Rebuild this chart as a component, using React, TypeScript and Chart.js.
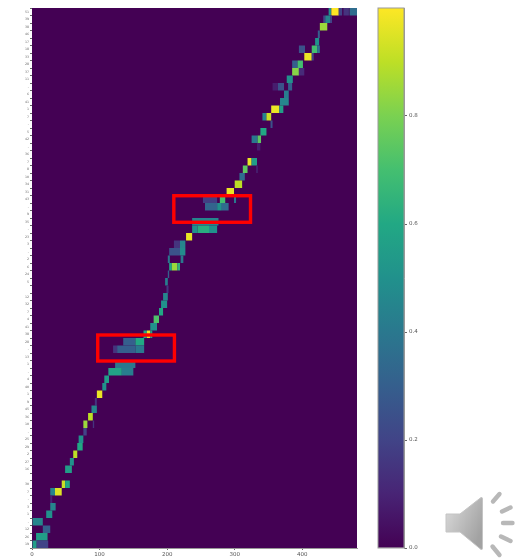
import React, { useEffect, useRef } from "react";
import { Chart, registerables } from "chart.js";

Chart.register(...registerables);

const rowLabels = [
  "51","39","38","46","17","18","33","28","37","11","-","6","41","1","7","-","5","42","-","36","7","8","10","34",
  "31","43","-","9","35","-","23","3","-","2","6","24","5","","12","32","7","4","41","38","28","-","13","1",
  "-","4","40","1","9","45","36","10","-","25","29","2","27","16","","30","7","-","3","1","-","12","26","19",
];

// [row, start, end, value]
const upperTrack: number[][] = [
  [0,439,443,0.5],[0,443,454,1],[0,454,459,0.2],[0,461,469,0.15],[0,470,481,0.35],
  [1,431,434,0.2],[1,434,441,0.45],[1,441,444,0.2],
  [2,426,437,0.85],[3,423,426,0.3],[4,419,425,0.5],
  [5,395,404,0.25],[5,414,422,0.7],[5,422,426,0.4],
  [6,403,414,0.97],[6,414,417,0.2],
  [7,385,393,0.3],[7,393,401,0.7],
  [8,385,395,0.82],[8,395,403,0.12],
  [9,377,386,0.5],
  [10,356,364,0.08],[10,364,373,0.25],[10,379,385,0.3],
  [11,373,380,0.42],[12,367,380,0.45],
  [13,354,366,0.97],[13,366,372,0.55],
  [14,341,347,0.45],[14,347,354,0.92],[15,353,356,0.25],
  [16,338,347,0.6],
  [17,325,334,0.4],[17,334,339,0.75],
  [18,333,338,0.08],
  [20,319,325,0.97],[20,325,333,0.55],
  [21,312,319,0.75],[21,332,334,0.12],
  [22,307,315,0.35],[23,300,311,0.9],[24,288,299,0.97],
];

const middleTrack: number[][] = [
  [25,253,274,0.18],[25,278,286,0.7],[25,299,302,0.4],
  [26,256,274,0.32],[26,274,281,0.5],[26,281,291,0.35],
  [28,237,276,0.45],
  [29,237,245,0.5],[29,245,262,0.62],[29,262,274,0.5],
  [30,228,237,0.97],
  [31,210,219,0.15],[31,219,227,0.45],
  [32,203,219,0.25],[32,219,227,0.48],
  [33,201,204,0.4],[33,220,224,0.4],
  [34,203,207,0.6],[34,207,215,0.85],[34,215,219,0.65],
  [35,201,203,0.3],[36,197,201,0.42],[37,199,202,0.15],
  [38,194,201,0.45],[39,191,200,0.5],[40,188,194,0.6],
  [41,180,188,0.72],[42,175,185,0.5],
  [43,165,170,0.6],[43,170,175,0.97],[43,175,178,0.6],
  [44,135,153,0.3],[44,153,166,0.6],
  [45,120,126,0.15],[45,126,153,0.3],[45,153,166,0.4],
];

const lowerTrack: number[][] = [
  [47,123,153,0.4],
  [48,113,133,0.58],[48,133,150,0.42],
  [49,107,114,0.55],[50,104,110,0.5],[51,96,104,0.97],
  [52,93,96,0.15],[53,88,96,0.45],[54,83,90,0.9],
  [55,76,82,0.85],[55,90,92,0.15],
  [56,76,81,0.2],[57,69,76,0.5],[58,67,75,0.6],[59,61,67,0.9],
  [60,56,62,0.5],[61,49,59,0.55],
  [63,44,49,0.92],[63,49,56,0.6],
  [64,27,34,0.45],[64,34,44,0.95],
  [65,27,30,0.1],[66,27,35,0.45],[67,21,30,0.5],
  [68,0,1,0.8],[68,1,16,0.45],
  [69,16,27,0.3],
  [70,6,23,0.55],
  [71,0,7,0.55],[71,7,24,0.2],
];

const xTickValues = [0, 100, 200, 300, 400];
const xDomain = [0, 481];
const colorbarTicks = [0, 0.2, 0.4, 0.6, 0.8];
// [x0, x1, row0, row1]
const highlightBoxes = [
  [97.3, 210.8, 43.1, 46.57],
  [209.9, 323.4, 24.53, 28.07],
];
const viridisStops = [
  "#440154","#482475","#414487","#355f8d","#2a788e","#21918c",
  "#22a884","#44bf70","#7ad151","#bddf26","#fde725",
];

function viridis(v: number): string {
  const p = Math.min(1, Math.max(0, v)) * (viridisStops.length - 1);
  const i = Math.min(viridisStops.length - 2, Math.floor(p));
  const f = p - i;
  const hex = (s: string, o: number) => parseInt(s.slice(o, o + 2), 16);
  const mix = (o: number) => Math.round(hex(viridisStops[i], o) * (1 - f) + hex(viridisStops[i + 1], o) * f);
  return `rgb(${mix(1)},${mix(3)},${mix(5)})`;
}

function buildDatasets() {
  const datasets: any[] = [];
  const all = [...upperTrack, ...middleTrack, ...lowerTrack];
  const layers: { data: any[]; colors: string[] }[] = [];
  const used: Record<number, number> = {};
  for (const [row, start, end, value] of all) {
    const k = used[row] ?? 0;
    used[row] = k + 1;
    if (!layers[k]) {
      layers[k] = { data: rowLabels.map(() => null), colors: rowLabels.map(() => "transparent") };
    }
    layers[k].data[row] = [start, end];
    layers[k].colors[row] = viridis(value);
  }
  layers.forEach((l, k) =>
    datasets.push({
      data: l.data,
      backgroundColor: l.colors,
      grouped: false,
      borderWidth: 0,
      inflateAmount: 0,
      order: 50 - k,
    })
  );
  return datasets;
}

const boxPlugin = {
  id: "highlightBoxes",
  beforeDatasetsDraw(chart: any) {
    const { ctx, chartArea: a } = chart;
    ctx.save();
    ctx.fillStyle = viridis(0);
    ctx.fillRect(a.left, a.top, a.right - a.left, a.bottom - a.top);
    ctx.restore();
  },
  afterDatasetsDraw(chart: any) {
    const { ctx, scales } = chart;
    ctx.save();
    ctx.strokeStyle = "#ff0000";
    ctx.lineWidth = 3.4;
    for (const [x0, x1, r0, r1] of highlightBoxes) {
      const l = scales.x.getPixelForValue(x0);
      const r = scales.x.getPixelForValue(x1);
      const t = scales.y.getPixelForValue(r0);
      const b = scales.y.getPixelForValue(r1);
      ctx.strokeRect(l, t, r - l, b - t);
    }
    ctx.restore();
  },
};

const tickFont = { family: "'DejaVu Sans'", size: 5.5 };

export default function App() {
  const mainRef = useRef<HTMLCanvasElement>(null);
  const barRef = useRef<HTMLCanvasElement>(null);

  useEffect(() => {
    const main = new Chart(mainRef.current!, {
      type: "bar",
      data: { labels: rowLabels, datasets: buildDatasets() },
      plugins: [boxPlugin],
      options: {
        indexAxis: "y",
        animation: false,
        responsive: false,
        layout: { padding: { left: 0, right: 172, top: 8, bottom: 0 } },
        plugins: { legend: { display: false }, tooltip: { enabled: false } },
        datasets: { bar: { categoryPercentage: 1, barPercentage: 1 } },
        scales: {
          x: {
            type: "linear",
            min: xDomain[0],
            max: xDomain[1],
            afterFit: (s: any) => { s.height = 12; },
            afterBuildTicks: (s: any) => { s.ticks = xTickValues.map((value) => ({ value })); },
            grid: { drawOnChartArea: false, tickLength: 2, color: "#666", tickColor: "#666" },
            border: { color: "#999", width: 1 },
            ticks: { font: tickFont, color: "#555", padding: 1, maxRotation: 0 },
          },
          y: {
            type: "category",
            afterFit: (s: any) => { s.width = 32; },
            grid: { drawOnChartArea: false, tickLength: 2, color: "#666", tickColor: "#666" },
            border: { color: "#999", width: 1 },
            ticks: {
              autoSkip: false,
              font: { family: "'DejaVu Sans'", size: 3.2 },
              color: "#666",
              padding: 1,
              maxRotation: 0,
            },
          },
        },
      },
    } as any);

    const bar = new Chart(barRef.current!, {
      type: "bar",
      data: {
        labels: ["colorbar"],
        datasets: [
          {
            data: [[0, 1]],
            borderWidth: 0,
            backgroundColor: (c: any) => {
              const area = c.chart.chartArea;
              if (!area) return viridis(0.5);
              const g = c.chart.ctx.createLinearGradient(0, area.bottom, 0, area.top);
              viridisStops.forEach((s, i) => g.addColorStop(i / (viridisStops.length - 1), s));
              return g;
            },
          },
        ],
      },
      options: {
        animation: false,
        responsive: false,
        layout: { padding: { left: 8, right: 0, top: 8, bottom: 12 } },
        plugins: { legend: { display: false }, tooltip: { enabled: false } },
        datasets: { bar: { categoryPercentage: 1, barPercentage: 1 } },
        scales: {
          x: { display: false },
          y: {
            position: "right",
            min: 0,
            max: 1,
            afterFit: (s: any) => { s.width = 125; },
            afterBuildTicks: (s: any) => { s.ticks = colorbarTicks.map((value) => ({ value })); },
            grid: { drawOnChartArea: false, tickLength: 3, color: "#666", tickColor: "#666" },
            border: { color: "#999", width: 1 },
            ticks: {
              font: tickFont,
              color: "#555",
              padding: 2,
              callback: (v: any) => Number(v).toFixed(1),
            },
          },
        },
      },
      plugins: [
        {
          id: "barFrame",
          afterDatasetsDraw(chart: any) {
            const { ctx, chartArea: a } = chart;
            ctx.save();
            ctx.strokeStyle = "#999";
            ctx.lineWidth = 1;
            ctx.strokeRect(a.left, a.top, a.right - a.left, a.bottom - a.top);
            ctx.restore();
          },
        },
      ],
    } as any);

    return () => {
      main.destroy();
      bar.destroy();
    };
  }, []);

  return (
    <div
      style={{
        position: "absolute",
        left: 0,
        top: 0,
        width: 529,
        height: 560,
        overflow: "hidden",
        background: "#fff",
        filter: "blur(0.6px)",
      }}
    >
      <canvas ref={mainRef} width={529} height={560} style={{ position: "absolute", left: 0, top: 0 }} />
      <canvas ref={barRef} width={159} height={560} style={{ position: "absolute", left: 370, top: 0 }} />
      <svg width={529} height={560} style={{ position: "absolute", left: 0, top: 0 }}>
        <defs>
          <linearGradient id="spk" x1="0" y1="0" x2="1" y2="0.6">
            <stop offset="0" stopColor="#dcdcdc" />
            <stop offset="1" stopColor="#a2a2a2" />
          </linearGradient>
        </defs>
        <path d="M446 514 H460 L481 497.5 Q482.5 497 482.5 499 V548 Q482.5 550 481 549.5 L460 532 H446 Z" fill="url(#spk)" stroke="#c4c4c4" strokeWidth={1} />
        <g stroke="#b8b8b8" strokeWidth={4.4} strokeLinecap="round">
          <line x1={493} y1={501.5} x2={499.5} y2={494} />
          <line x1={502} y1={511.5} x2={510.5} y2={507.5} />
          <line x1={503} y1={523} x2={512.5} y2={523} />
          <line x1={501} y1={536.5} x2={510.5} y2={541} />
          <line x1={492.5} y1={546.5} x2={499.5} y2={555} />
        </g>
      </svg>
    </div>
  );
}
